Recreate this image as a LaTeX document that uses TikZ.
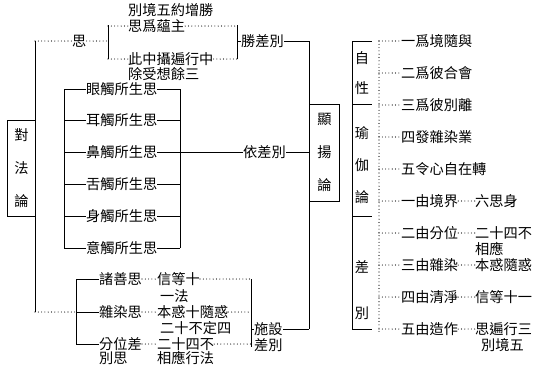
\documentclass[tikz,border=0pt]{standalone}
\usepackage{fontspec}
\newfontfamily\cjk{Noto Sans CJK TC}

\begin{document}
\begin{tikzpicture}[x=1pt,y=-1pt,
  txt/.style={inner sep=0pt,anchor=west,font=\cjk\fontsize{14.2}{16}\selectfont},
  vtxt/.style={inner sep=0pt,align=center,font=\cjk\fontsize{14.2}{33}\selectfont},
  ln/.style={line width=0.9pt},
  dt/.style={line width=1.1pt,line cap=round,dash pattern=on 0pt off 3.3pt}]
  \useasboundingbox (0,0) rectangle (533,370);
  % left side
  \node[draw,ln,vtxt,minimum width=28,minimum height=96,anchor=north west] (dfl) at (7,120) {對\\法\\論};
  \coordinate (s1) at (35,41);
  \coordinate (s2) at (35,312);
  \draw[ln] (s1) -- (s2);
  \node[txt] (si) at (72,41) {思};
  \coordinate (b1t) at (108,25);
  \coordinate (b1b) at (108,59);
  \coordinate (b2t) at (237,25);
  \coordinate (b2b) at (237,59);
  \node[txt] (bj) at (128,10) {別境五約增勝};
  \node[txt] (zhu) at (128,26) {思爲蘊主};
  \node[txt] (zs) at (128,59) {此中攝遍行中};
  \node[txt] (cs) at (128,74) {除受想餘三};
  \draw[dt] (s1) -- (si);
  \draw[dt] (si) -- (b1t |- si);
  \draw[ln] (b1t) -- (b1b);
  \draw[dt] (b1t |- zhu) -- (zhu);
  \draw[dt] (b1t |- zs) -- (zs);
  \draw[dt] (zhu) -- (b2t |- zhu);
  \draw[dt] (zs) -- (b2t |- zs);
  \draw[ln] (b2t) -- (b2b);
  \node[txt] (sheng) at (241,41) {勝差別};
  \coordinate (r1) at (309,41);
  \coordinate (r2) at (309,329);
  \draw[ln] (b2t |- sheng) -- (sheng);
  \draw[ln] (sheng) -- (r1) -- (r2);
  \node[draw,ln,vtxt,minimum width=30,minimum height=97,anchor=north west] (xyl) at (309,104) {顯\\揚\\論};
  % six contacts
  \coordinate (b3t) at (64,89);
  \coordinate (b3b) at (64,248);
  \coordinate (b4t) at (180,89);
  \coordinate (b4b) at (180,248);
  \foreach \t/\y [count=\i] in {眼觸所生思/89,耳觸所生思/120,鼻觸所生思/152,舌觸所生思/184,身觸所生思/216,意觸所生思/248}
    \node[txt] (c\i) at (86,\y) {\t};
  \draw[ln] (b3t) -- (b3b);
  \draw[ln] (b4t) -- (b4b);
  \foreach \i in {1,...,6}
    \draw[ln] (b3t |- c\i) -- (c\i) (c\i) -- (b4t |- c\i);
  \node[txt] (yi) at (243,152) {依差別};
  \draw[ln] (b4t |- yi) -- (yi);
  \draw[ln] (yi) -- (r1 |- yi);
  % bottom group
  \coordinate (b5t) at (76,279);
  \coordinate (b5b) at (76,344);
  \coordinate (b6t) at (251,279);
  \coordinate (b6b) at (251,347);
  \node[txt] (zs1) at (99,279) {諸善思};
  \node[txt] (zs2) at (99,312) {雜染思};
  \node[txt] (zs3) at (99,344) {分位差};
  \node[txt] (bs) at (99,358) {別思};
  \node[txt] (xd) at (157,279) {信等十};
  \node[txt] (yf) at (160,296) {一法};
  \node[txt] (bh) at (157,312) {本惑十隨惑};
  \node[txt] (ebd) at (160,328) {二十不定四};
  \node[txt] (esi) at (157,344) {二十四不};
  \node[txt] (xy) at (157,358) {相應行法};
  \node[txt] (ss) at (254,329) {施設};
  \node[txt] (cb) at (254,345) {差別};
  \draw[dt] (s2) -- (b5t |- s2);
  \draw[ln] (b5t) -- (b5b);
  \draw[ln] (b5t |- zs1) -- (zs1);
  \draw[ln] (b5t |- zs2) -- (zs2);
  \draw[ln] (b5t |- zs3) -- (zs3);
  \draw[dt] (zs1) -- (xd);
  \draw[dt] (zs2) -- (bh);
  \draw[dt] (zs3) -- (esi);
  \draw[dt] (xd) -- (b6t |- xd);
  \draw[dt] (bh) -- (b6t |- bh);
  \draw[dt] (esi) -- (b6t |- esi);
  \draw[ln] (b6t) -- (b6b);
  \draw[ln] (b6t |- ss) -- (ss);
  \draw[ln] (ss) -- (r2);
  % right side
  \coordinate (g1) at (352,41);
  \coordinate (g2) at (352,104);
  \coordinate (g3) at (352,216);
  \coordinate (g4) at (352,329);
  \draw[ln] (g1) -- (g4);
  \foreach \g in {g1,g2,g3,g4}
    \draw[ln] (\g) -- ++(20,0);
  \foreach \t/\y [count=\i] in {自/58,性/88,瑜/133,伽/165,論/197,差/267,別/313}
    \node[vtxt] (k\i) at (362,\y) {\t};
  \coordinate (d1) at (379,41);
  \coordinate (d2) at (379,332);
  \draw[dt] (d1) -- (d2);
  \foreach \t [count=\i] in {一爲境隨與,二爲彼合會,三爲彼別離,四發雜染業,五令心自在轉,一由境界,二由分位,三由雜染,四由清淨,五由造作}
    \node[txt] (it\i) at (401,9+32*\i) {\t};
  \foreach \i in {1,...,10}
    \draw[dt] (d1 |- it\i) -- (it\i);
  \node[txt] (sub6) at (475,201) {六思身};
  \node[txt] (sub7) at (475,233) {二十四不};
  \node[txt] (xy2) at (475,249) {相應};
  \node[txt] (sub8) at (475,265) {本惑隨惑};
  \node[txt] (sub9) at (475,297) {信等十一};
  \node[txt] (sub10) at (475,329) {思遍行三};
  \node[txt] (bjw) at (481,345) {別境五};
  \foreach \i in {6,...,10}
    \draw[dt] (it\i) -- (sub\i);
\end{tikzpicture}
\end{document}
